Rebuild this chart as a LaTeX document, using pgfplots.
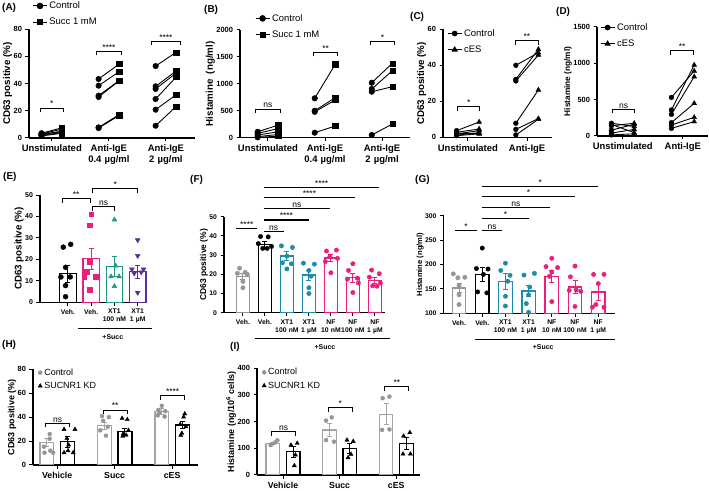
\documentclass[border=0pt]{standalone}
\usepackage{fontspec}
\setmainfont{Liberation Sans}
\usepackage{pgfplots}
\pgfplotsset{compat=1.18}
\usepackage{pgfplotstable}

\definecolor{pk}{RGB}{233,30,125}
\definecolor{tlE}{RGB}{32,150,140}
\definecolor{tl}{RGB}{28,140,168}
\definecolor{pu}{RGB}{92,45,150}
\definecolor{gy}{RGB}{150,150,150}
\definecolor{gyb}{RGB}{165,165,165}

\newcommand\fs[2]{\fontsize{#1}{#2}\selectfont}
\newcommand\sig{\fs{8.5}{9}}
\newcommand\brk[5]{%
  \draw[line width=0.9bp] (axis cs:#1,#3-#4) |- (axis cs:#2,#3) -- (axis cs:#2,#3-#4);
  \node[above, inner sep=1bp, font=\sig] at (axis cs:{(#1+#2)/2},#3) {#5};}
\newcommand\bln[4]{%
  \draw[line width=1.1bp] (axis cs:#1,#3) -- (axis cs:#2,#3);
  \node[above, inner sep=0.8bp, font=\sig] at (axis cs:{(#1+#2)/2},#3) {#4};}

\pgfplotsset{
  panel/.style={
    scale only axis, axis lines*=left, anchor=south west,
    axis line style={line width=1.1bp},
    tick style={black, line width=1bp},
    major tick length=3.5bp, tick align=outside,
    clip mode=individual,
    /pgf/number format/assume math mode=true,
    /pgf/number format/1000 sep={},
    yticklabel style={font=\bfseries\fs{7.5}{8}},
    xticklabel style={font=\bfseries\fs{9.5}{11}, text width=80bp, align=center},
    ylabel style={font=\bfseries\fs{9.8}{11}, inner sep=0pt},
    ylabel shift=-2bp,
    legend style={draw=none, fill=none, inner sep=0pt, font=\fs{9.5}{11}, cells={anchor=west}},
    legend image code/.code={\draw[mark repeat=2, mark phase=2, ##1] plot coordinates {(0bp,0bp) (7bp,0bp) (14bp,0bp)};},
  },
  pair/.style={black, line width=0.9bp, no marks, forget plot, quiver={u=#1, v=\thisrow{s}-\thisrow{c}}},
  pts/.style={only marks, mark size=2.2bp, forget plot},
  bb/.style 2 args={ybar, bar shift=0pt, bar width=#2, draw=#1, fill=white, line width=1.3bp, forget plot,
    error bars/y dir=both, error bars/y explicit,
    error bars/error bar style={draw=#1, line width=1bp},
    error bars/error mark options={draw=#1, rotate=90, mark size=2.5bp, line width=1bp}},
}

% paired donors: category, control, treated
\pgfplotstableread{
x c s
0 3.5 7.5
0 3.0 6.5
0 2.5 5.0
0 2.0 4.0
0 1.5 3.5
0 3.0 4.5
1 43.3 54.3
1 38.4 48.7
1 31.1 42.1
1 30.1 42.0
1 7.8 17.1
1 7.3 16.5
2 52.8 62.9
2 37.9 49.2
2 36.0 47.7
2 28.6 44.8
2 20.8 31.8
2 9.0 23.2
}\tabA
\pgfplotstableread{
x c s
0 110 235
0 80 170
0 50 110
0 20 60
0 5 30
1 732 1363
1 501 743
1 480 700
1 93 217
2 1021 1381
2 904 1244
2 854 947
2 50 254
}\tabB
\pgfplotstableread{
x c s
0 3.7 8.5
0 2.8 4.6
0 1.9 3.7
0 1.2 2.6
0 0.9 1.9
0 2.3 2.0
1 40.0 47.0
1 32.2 48.9
1 31.3 45.7
1 7.8 26.3
1 4.4 10.4
1 1.3 10.0
}\tabC
\pgfplotstableread{
x c s
0 175 130
0 140 175
0 80 160
0 40 90
0 15 30
0 160 45
1 530 892
1 357 974
1 297 814
1 183 448
1 151 256
1 105 197
}\tabD

\begin{document}
\begin{tikzpicture}
\useasboundingbox (0,0) rectangle (709bp,491bp);
\tikzset{lab/.style={anchor=west, font=\bfseries\fs{10}{12}, inner sep=0pt}}
\node[lab] at (2bp,483bp) {(A)};
\node[lab] at (204bp,481bp) {(B)};
\node[lab] at (410bp,474bp) {(C)};
\node[lab] at (556bp,479bp) {(D)};
\node[lab] at (3bp,314bp) {(E)};
\node[lab] at (190bp,311bp) {(F)};
\node[lab] at (415bp,311bp) {(G)};
\node[lab] at (2bp,146bp) {(H)};
\node[lab] at (230bp,144bp) {(I)};

% ---------- A
\begin{axis}[panel, at={(29bp,353bp)}, width=166bp, height=109bp,
  xmin=-0.40, xmax=2.51, ymin=0, ymax=80, ytick={0,20,...,80},
  xtick={0,1,2}, xticklabels={Unstimulated,{Anti-IgE\\0.4 µg/ml},{Anti-IgE\\2 µg/ml}},
  ylabel={CD63 positive (\%)},
  legend style={at={(axis description cs:0.02,1.27)}, anchor=north west, row sep=4bp}]
\addlegendimage{black, line width=0.9bp, mark=*, mark size=2.8bp}
\addlegendentry{Control}
\addlegendimage{black, line width=0.9bp, mark=square*, mark size=2.6bp}
\addlegendentry{Succ 1 mM}
\addplot[pair=0.36] table[x expr=\thisrow{x}-0.18, y=c] {\tabA};
\addplot[pts, black, mark=*, mark size=2.8bp] table[x expr=\thisrow{x}-0.18, y=c] {\tabA};
\addplot[pts, black, mark=square*, mark size=2.6bp] table[x expr=\thisrow{x}+0.18, y=s] {\tabA};
\brk{-0.2}{0.2}{22}{3}{*}
\brk{0.78}{1.22}{63.6}{3}{****}
\brk{1.75}{2.25}{71}{3}{****}
\end{axis}

% ---------- B
\begin{axis}[panel, at={(240bp,353.3bp)}, width=170bp, height=107.7bp,
  xmin=-0.49, xmax=2.49, ymin=0, ymax=2000, ytick={0,500,...,2000},
  xtick={0,1,2}, xticklabels={Unstimulated,{Anti-IgE\\0.4 µg/ml},{Anti-IgE\\2 µg/ml}},
  ylabel={Histamine\ \ (ng/ml)},
  legend style={at={(axis description cs:0.088,1.167)}, anchor=north west, row sep=4bp}]
\addlegendimage{black, line width=0.9bp, mark=*, mark size=2.8bp}
\addlegendentry{Control}
\addlegendimage{black, line width=0.9bp, mark=square*, mark size=2.6bp}
\addlegendentry{Succ 1 mM}
\addplot[pair=0.36] table[x expr=\thisrow{x}-0.18, y=c] {\tabB};
\addplot[pts, black, mark=*, mark size=2.8bp] table[x expr=\thisrow{x}-0.18, y=c] {\tabB};
\addplot[pts, black, mark=square*, mark size=2.6bp] table[x expr=\thisrow{x}+0.18, y=s] {\tabB};
\brk{-0.22}{0.22}{532}{70}{ns}
\brk{0.8}{1.22}{1586}{70}{**}
\brk{1.8}{2.22}{1783}{70}{*}
\end{axis}

% ---------- C
\begin{axis}[panel, at={(443bp,353.7bp)}, width=109bp, height=108bp,
  xmin=-0.42, xmax=1.42, ymin=0, ymax=60, ytick={0,20,...,60},
  xtick={0,1}, xticklabels={Unstimulated,Anti-IgE},
  ylabel={CD63 positive (\%)},
  legend style={at={(axis description cs:0.037,1.02)}, anchor=north west, row sep=4bp}]
\addlegendimage{black, line width=0.9bp, mark=*, mark size=2.4bp}
\addlegendentry{Control}
\addlegendimage{black, line width=0.9bp, mark=triangle*, mark size=2.8bp}
\addlegendentry{cES}
\addplot[pair=0.38] table[x expr=\thisrow{x}-0.19, y=c] {\tabC};
\addplot[pts, black, mark=*, mark size=2.4bp] table[x expr=\thisrow{x}-0.19, y=c] {\tabC};
\addplot[pts, black, mark=triangle*, mark size=2.8bp] table[x expr=\thisrow{x}+0.19, y=s] {\tabC};
\brk{-0.17}{0.2}{17}{2.2}{*}
\brk{0.8}{1.19}{53.7}{2.2}{**}
\end{axis}

% ---------- D
\begin{axis}[panel, at={(597bp,355bp)}, width=111bp, height=109.3bp,
  xmin=-0.43, xmax=1.42, ymin=0, ymax=1500, ytick={0,500,...,1500},
  xtick={0,1}, xticklabels={Unstimulated,Anti-IgE},
  ylabel={Histamine (ng/ml)}, ylabel style={font=\bfseries\fs{8.3}{10}},
  legend style={at={(axis description cs:0.027,1.05)}, anchor=north west, row sep=4bp}]
\addlegendimage{black, line width=0.9bp, mark=*, mark size=2.4bp}
\addlegendentry{Control}
\addlegendimage{black, line width=0.9bp, mark=triangle*, mark size=2.8bp}
\addlegendentry{cES}
\addplot[pair=0.38] table[x expr=\thisrow{x}-0.19, y=c] {\tabD};
\addplot[pts, black, mark=*, mark size=2.4bp] table[x expr=\thisrow{x}-0.19, y=c] {\tabD};
\addplot[pts, black, mark=triangle*, mark size=2.8bp] table[x expr=\thisrow{x}+0.19, y=s] {\tabD};
\brk{-0.17}{0.2}{366}{55}{ns}
\brk{0.8}{1.18}{1171}{55}{**}
\end{axis}

% ---------- E
\begin{axis}[panel, at={(40bp,188.7bp)}, width=107bp, height=107.3bp,
  xmin=-1.2, xmax=3.4, ymin=0, ymax=50, ytick={0,10,...,50},
  xtick={0,1,2,3}, xticklabels={Veh.,Veh.,{XT1\\100 nM},{XT1\\1 µM}},
  ylabel={CD63 positive (\%)},
  yticklabel style={font=\bfseries\fs{7}{8}},
  xticklabel style={font=\bfseries\fs{6.8}{8}, text width=30bp}]
\addplot[bb={black}{0.71}] coordinates {(0,13.3) +- (0,3.9)};
\addplot[bb={pk}{0.71}] coordinates {(1,20.3) +- (0,5.0)};
\addplot[bb={tlE}{0.71}] coordinates {(2,16.8) +- (0,4.6)};
\addplot[bb={pu}{0.71}] coordinates {(3,14.2) +- (0,3.1)};
\addplot[pts, black, mark=*, mark size=2.5bp] coordinates {(-0.2,25.7) (0.12,27) (-0.1,16.3) (-0.3,11.8) (0.1,11.8) (-0.1,7.8) (-0.1,2.6)};
\addplot[pts, pk, mark=square*, mark size=2.3bp] coordinates {(1,41) (0.93,36) (0.93,19) (0.8,14.3) (0.7,12) (1.2,12) (0.93,6)};
\addplot[pts, tlE, mark=triangle*, mark size=2.8bp] coordinates {(2,38.5) (2.05,17) (1.85,12) (2.2,12) (2,7.5)};
\addplot[pts, pu, mark=triangle*, mark size=2.8bp, mark options={rotate=180}] coordinates {(3,29) (3,21.7) (2.75,15.4) (3.25,15.4) (2.85,13.5) (3.15,14) (3,4.5)};
\brk{-0.25}{0.95}{48.4}{1.9}{**}
\brk{1.07}{3}{53}{1.9}{*}
\brk{1.07}{2}{44.6}{1.9}{ns}
\draw[line width=0.9bp] ([yshift=-26bp]axis cs:0.43,0) -- ([yshift=-26bp]axis cs:3.6,0);
\node[font=\bfseries\fs{7}{8}] at ([yshift=-35bp]axis cs:1.93,0) {+Succ};
\end{axis}

% ---------- F
\begin{axis}[panel, at={(224bp,178.3bp)}, width=160.8bp, height=96bp,
  xmin=-0.86, xmax=6.45, ymin=0, ymax=50, ytick={0,10,...,50},
  xtick={0,...,6}, xticklabels={Veh.,Veh.,{XT1\\100 nM},{XT1\\1 µM},{NF\\10 nM},{NF\\100 nM},{NF\\1 µM}},
  ylabel={CD63 positive (\%)},
  yticklabel style={font=\bfseries\fs{6.8}{8}},
  xticklabel style={font=\bfseries\fs{6.8}{8}, text width=30bp},
  ylabel style={font=\bfseries\fs{8.5}{10}}]
\addplot[bb={gy}{0.58}] coordinates {(0,18.75) +- (0,1.5)};
\addplot[bb={black}{0.58}] coordinates {(1,35.6) +- (0,1.5)};
\addplot[bb={tl}{0.58}] coordinates {(2,29.5) +- (0,2.2) (3,19.6) +- (0,2.6)};
\addplot[bb={pk}{0.58}] coordinates {(4,28.5) +- (0,1.8) (5,18.2) +- (0,2.3) (6,16.7) +- (0,1.6)};
\addplot[pts, gy, mark=*] coordinates {(-0.15,23.2) (0.1,21) (-0.25,20.5) (0.2,20) (0,16.3) (0,13)};
\addplot[pts, black, mark=*] coordinates {(0.8,39.7) (1.15,39.5) (0.7,36) (1.3,34.5) (0.9,33.5) (1.1,33.5)};
\addplot[pts, tl, mark=*] coordinates {(1.75,34.8) (2.25,34) (2,29.5) (1.8,26) (2.2,25.5) (2,22.8)
  (2.75,25.8) (3.25,25.3) (3,22) (3.1,19) (3,13) (3,10)};
\addplot[pts, pk, mark=*] coordinates {(3.8,32.1) (4.25,32.6) (3.95,29.2) (4.3,28.3) (3.75,26.6) (4,20.8)
  (5,25.5) (4.8,22) (5.2,18) (4.75,17.5) (5.25,15.5) (5,10.5)
  (5.85,22.2) (6.2,20.3) (5.75,18.5) (6.25,15.5) (5.9,14) (6.1,13.8)};
\bln{-0.3}{0.65}{43.9}{****}
\bln{0.95}{1.85}{42.5}{ns}
\bln{0.95}{3}{48.3}{****}
\bln{0.95}{3.95}{54.3}{ns}
\bln{0.95}{5.1}{59.9}{****}
\bln{0.95}{6.2}{65.1}{****}
\draw[line width=0.9bp] ([yshift=-26bp]axis cs:0.55,0) -- ([yshift=-26bp]axis cs:6.68,0);
\node[font=\bfseries\fs{7}{8}] at ([yshift=-34bp]axis cs:3.73,0) {+Succ};
\end{axis}

% ---------- G
\begin{axis}[panel, at={(443.5bp,177.7bp)}, width=171.4bp, height=97.3bp,
  xmin=-0.67, xmax=6.72, ymin=100, ymax=300, ytick={100,150,...,300},
  xtick={0,...,6}, xticklabels={Veh.,Veh.,{XT1\\100 nM},{XT1\\1 µM},{NF\\10 nM},{NF\\100 nM},{NF\\1 µM}},
  ylabel={Histamine (ng/ml)},
  yticklabel style={font=\bfseries\fs{6.8}{8}},
  xticklabel style={font=\bfseries\fs{6.8}{8}, text width=30bp},
  ylabel style={font=\bfseries\fs{7.6}{9}}]
\addplot[bb={gy}{0.58}] coordinates {(0,152) +- (0,8.5)};
\addplot[bb={black}{0.58}] coordinates {(1,180) +- (0,14.5)};
\addplot[bb={tl}{0.58}] coordinates {(2,165) +- (0,17) (3,146) +- (0,12)};
\addplot[bb={pk}{0.58}] coordinates {(4,176) +- (0,12) (5,154) +- (0,14) (6,144) +- (0,18)};
\addplot[pts, gy, mark=*] coordinates {(-0.25,181) (0.25,174) (-0.05,173) (0,157) (0,138) (0,118)};
\addplot[pts, black, mark=*] coordinates {(1,234) (0.75,192) (1.25,191) (1.05,180) (0.8,144) (1.2,142)};
\addplot[pts, tl, mark=*] coordinates {(2,203) (1.8,188) (2.2,178) (2.1,166) (2,135) (2,115)
  (3.25,182) (2.8,178.5) (3.05,154) (3,138) (2.9,120) (3,102)};
\addplot[pts, pk, mark=*] coordinates {(4,213) (3.75,196) (4.25,194) (4,185) (3.9,176) (4,124)
  (5,197) (4.8,175) (5.05,148) (4.75,147) (5.25,145) (5,114)
  (5.8,180) (6.25,180) (6,161) (5.9,118) (5.75,112.5) (6.25,112.5)};
\bln{-0.17}{0.77}{270}{*}
\bln{1}{1.85}{270}{ns}
\bln{1}{3}{295}{*}
\bln{1}{3.9}{317}{ns}
\bln{1}{5}{339.6}{*}
\bln{1}{6}{360}{*}
\draw[line width=0.9bp] ([yshift=-26bp]axis cs:0.69,100) -- ([yshift=-26bp]axis cs:6.72,100);
\node[font=\bfseries\fs{7}{8}] at ([yshift=-34bp]axis cs:3.63,100) {+Succ};
\end{axis}

% ---------- H
\begin{axis}[panel, at={(33bp,26bp)}, width=165bp, height=95.7bp,
  xmin=-0.42, xmax=2.45, ymin=0, ymax=80, ytick={0,20,...,80},
  xtick={0,1,2}, xticklabels={Vehicle,Succ,cES},
  ylabel={CD63 positive (\%)},
  ylabel style={font=\bfseries\fs{9}{10}},
  xticklabel style={font=\bfseries\fs{8.8}{10}, text width=50bp},
  legend style={at={(axis description cs:0.03,1.03)}, anchor=north west, row sep=1.5bp, font=\fs{9}{10}}]
\addlegendimage{only marks, gy, mark=*, mark size=2bp}
\addlegendentry{Control}
\addlegendimage{only marks, black, mark=triangle*, mark size=2.4bp}
\addlegendentry{SUCNR1 KD}
\addplot[bb={gyb}{0.24}] coordinates {(-0.18,18.7) +- (0,3.5) (0.82,32.9) +- (0,3) (1.82,44.6) +- (0,2.4)};
\addplot[bb={black}{0.24}] coordinates {(0.18,19.5) +- (0,4.5) (1.18,27.9) +- (0,3) (2.18,33.4) +- (0,3.1)};
\addplot[pts, gy, mark=*, mark size=2bp] coordinates {(-0.13,25.9) (-0.13,22) (-0.23,15.3) (-0.12,12) (-0.07,10.3) (-0.22,10.3)
  (0.78,41) (0.9,40) (0.8,37) (0.88,32) (0.75,29) (0.85,24.5)
  (1.82,49.5) (1.76,46) (1.88,45) (1.78,43.5) (1.75,41.5) (1.87,40.5)};
\addplot[pts, black, mark=triangle*, mark size=2.4bp] coordinates {(0.12,29.8) (0.31,29.8) (0.17,22.3) (0.2,16.7) (0.19,12) (0.12,10.3) (0.28,10.3)
  (1.13,39) (1.22,38) (1.24,29) (1.15,26) (1.2,25) (1.14,24)
  (2.22,42.8) (2.2,40.2) (2.14,34) (2.24,32) (2.17,26.5) (2.15,24.8)};
\brk{-0.2}{0.22}{34.8}{3.3}{ns}
\brk{0.8}{1.22}{46}{3.3}{**}
\brk{1.8}{2.22}{58}{3.3}{****}
\end{axis}

% ---------- I
\begin{axis}[panel, at={(257bp,16bp)}, width=163bp, height=106.7bp,
  xmin=-0.46, xmax=2.42, ymin=0, ymax=400, ytick={0,100,...,400},
  xtick={0,1,2}, xticklabels={Vehicle,Succ,cES},
  ylabel={Histamine (ng/10\textsuperscript{6} cells)},
  ylabel style={font=\bfseries\fs{9}{10}},
  xticklabel style={font=\bfseries\fs{8.8}{10}, text width=50bp},
  legend style={at={(axis description cs:0.03,1.02)}, anchor=north west, row sep=1.5bp, font=\fs{9}{10}}]
\addlegendimage{only marks, gy, mark=*, mark size=2bp}
\addlegendentry{Control}
\addlegendimage{only marks, black, mark=triangle*, mark size=2.4bp}
\addlegendentry{SUCNR1 KD}
\addplot[bb={gyb}{0.24}] coordinates {(-0.18,118) +- (0,4) (0.82,169) +- (0,25) (1.82,227.5) +- (0,39)};
\addplot[bb={black}{0.24}] coordinates {(0.18,87) +- (0,21) (1.18,100) +- (0,19) (2.18,119) +- (0,22)};
\addplot[pts, gy, mark=*, mark size=2bp] coordinates {(-0.22,112) (-0.14,122) (-0.2,116) (-0.1,130)
  (0.76,204) (0.86,216) (0.76,131) (0.9,125)
  (1.76,288) (1.88,294) (1.75,169) (1.88,171)};
\addplot[pts, black, mark=triangle*, mark size=2.4bp] coordinates {(0.14,112) (0.25,119) (0.22,75) (0.2,35)
  (1.13,131) (1.24,126) (1.2,78) (1.15,65)
  (2.13,146) (2.24,159) (2.25,79) (2.12,79)};
\brk{-0.2}{0.22}{162}{15}{ns}
\brk{0.8}{1.22}{252}{15}{*}
\brk{1.8}{2.22}{331}{15}{**}
\end{axis}
\end{tikzpicture}
\end{document}
